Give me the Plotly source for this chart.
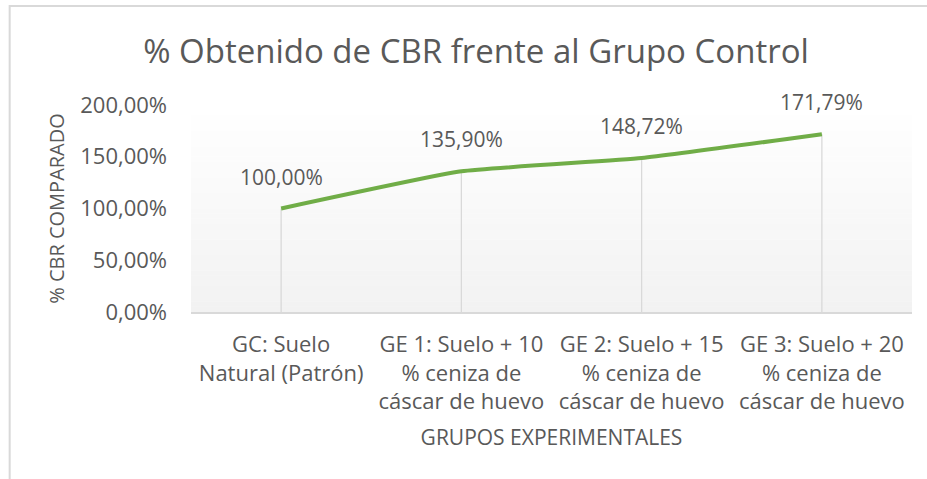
import plotly.graph_objects as go

# ==========================================================
# Data
# ==========================================================

categories = [
    "GC: Suelo<br>Natural (Patrón)",
    "GE 1: Suelo + 10<br>% ceniza de<br>cáscar de huevo",
    "GE 2: Suelo + 15<br>% ceniza de<br>cáscar de huevo",
    "GE 3: Suelo + 20<br>% ceniza de<br>cáscar de huevo",
]
cbr_pct = [100.00, 135.90, 148.72, 171.79]
point_labels = ["100,00%", "135,90%", "148,72%", "171,79%"]

y_ticks = [0, 50, 100, 150, 200]
y_tick_labels = ["0,00%", "50,00%", "100,00%", "150,00%", "200,00%"]

FONT = "Open Sans"
TEXT = "#595959"
GREEN = "#70ad47"
LIGHT = "#d9d9d9"


# ==========================================================
# Figure
# ==========================================================

fig = go.Figure()

fig.add_trace(
    go.Scatter(
        x=categories,
        y=cbr_pct,
        mode="lines",
        line=dict(color=GREEN, width=4, shape="spline", smoothing=0.4),
        # drop lines down to the axis
        error_y=dict(
            type="data",
            symmetric=False,
            array=[0] * len(cbr_pct),
            arrayminus=cbr_pct,
            color=LIGHT,
            thickness=1.3,
            width=0,
        ),
        hoverinfo="skip",
        showlegend=False,
    )
)

for cat, val, lab in zip(categories, cbr_pct, point_labels):
    fig.add_annotation(
        x=cat,
        y=val,
        text=lab,
        showarrow=False,
        yshift=32,
        font=dict(family=FONT, size=21, color=TEXT),
    )

# soft vertical gradient in the plot area
n_bands = 40
shapes = []
for i in range(n_bands):
    t = i / (n_bands - 1)
    c = int(round(242 + (255 - 242) * t))
    shapes.append(
        dict(
            type="rect",
            xref="x domain",
            yref="y domain",
            x0=0,
            x1=1,
            y0=i / n_bands,
            y1=(i + 1) / n_bands + 0.002,
            fillcolor=f"rgb({c},{c},{c})",
            line=dict(width=0),
            layer="below",
        )
    )

# chart border (cropped on right / bottom)
shapes.append(
    dict(
        type="rect",
        xref="paper",
        yref="paper",
        x0=-0.2515,
        x1=2,
        y0=-2,
        y1=1.478,
        line=dict(color=LIGHT, width=2),
        fillcolor="rgba(0,0,0,0)",
        layer="above",
    )
)

fig.update_layout(
    width=927,
    height=479,
    paper_bgcolor="white",
    plot_bgcolor="white",
    margin=dict(l=191, r=15, t=105, b=167),
    font=dict(family=FONT, color=TEXT),
    title=dict(
        text="% Obtenido de CBR frente al Grupo Control",
        x=0.5135,
        xanchor="center",
        y=0.893,
        yanchor="middle",
        xref="container",
        yref="container",
        font=dict(family=FONT, size=33, color=TEXT),
    ),
    shapes=shapes,
)

fig.update_xaxes(
    type="category",
    range=[-0.5, 3.5],
    showgrid=False,
    showline=True,
    linecolor=LIGHT,
    linewidth=1.5,
    ticks="",
    ticklabelstandoff=12,
    tickfont=dict(family=FONT, size=22, color=TEXT),
    title=dict(
        text="GRUPOS EXPERIMENTALES",
        font=dict(family=FONT, size=21, color=TEXT),
        standoff=16,
    ),
)

fig.update_yaxes(
    range=[0, 200],
    tickvals=y_ticks,
    ticktext=y_tick_labels,
    showgrid=False,
    zeroline=False,
    ticks="",
    ticklabelstandoff=23,
    tickfont=dict(family=FONT, size=22, color=TEXT),
    title=dict(
        text="% CBR COMPARADO",
        font=dict(family=FONT, size=20, color=TEXT),
        standoff=10,
    ),
)

fig.write_html(
    "out.html",
    config={"displayModeBar": False},
    post_script="document.body.style.margin='0';",
)
